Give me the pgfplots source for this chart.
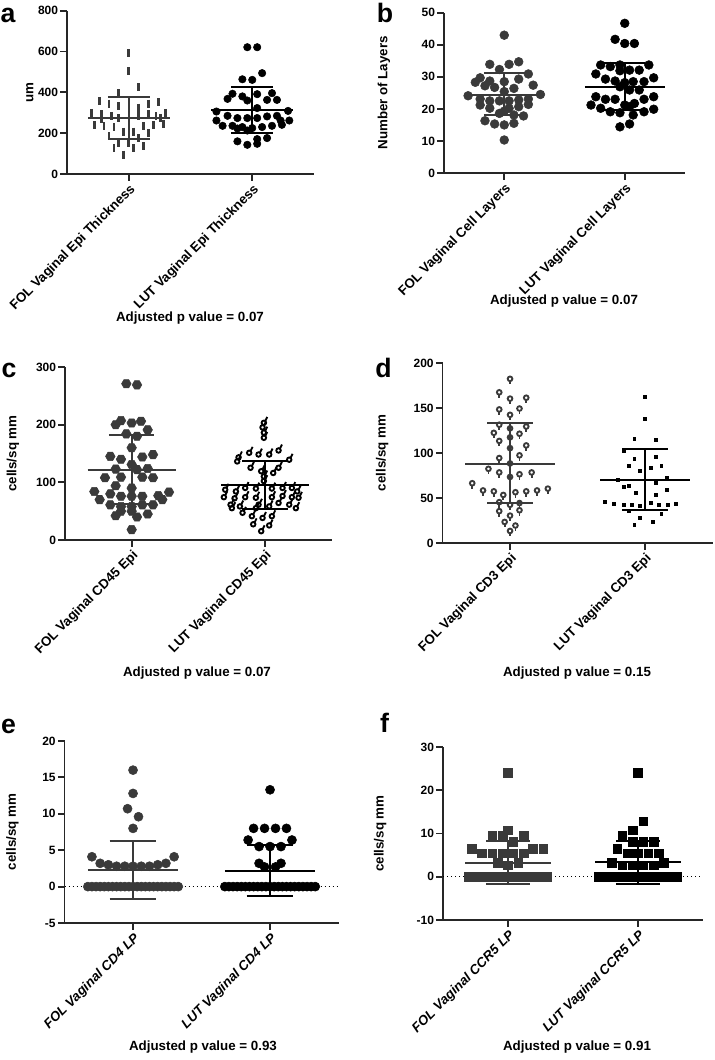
\documentclass[border=0pt]{standalone}
\usepackage{pgfplots}
\pgfplotsset{compat=1.18}
\usepackage{fontspec}
\setmainfont{Liberation Sans}
\definecolor{fol}{RGB}{58,58,58}

\pgfdeclareplotmark{hexagon*}{%
 \pgfpathmoveto{\pgfqpointpolar{0}{\pgfplotmarksize}}%
 \pgfpathlineto{\pgfqpointpolar{60}{\pgfplotmarksize}}%
 \pgfpathlineto{\pgfqpointpolar{120}{\pgfplotmarksize}}%
 \pgfpathlineto{\pgfqpointpolar{180}{\pgfplotmarksize}}%
 \pgfpathlineto{\pgfqpointpolar{240}{\pgfplotmarksize}}%
 \pgfpathlineto{\pgfqpointpolar{300}{\pgfplotmarksize}}%
 \pgfpathclose\pgfusepathqfillstroke}
\pgfdeclareplotmark{balloon}{%
 \pgfpathcircle{\pgfqpoint{-0.25\pgfplotmarksize}{-0.35\pgfplotmarksize}}{0.5\pgfplotmarksize}%
 \pgfusepathqstroke
 \pgfpathmoveto{\pgfqpoint{0.05\pgfplotmarksize}{0.05\pgfplotmarksize}}%
 \pgfpathlineto{\pgfqpoint{0.5\pgfplotmarksize}{0.95\pgfplotmarksize}}%
 \pgfusepathqstroke}
\pgfdeclareplotmark{lolli}{%
 \pgfpathcircle{\pgfqpoint{0pt}{0.3\pgfplotmarksize}}{0.55\pgfplotmarksize}%
 \pgfusepathqstroke
 \pgfpathmoveto{\pgfqpoint{0pt}{-0.25\pgfplotmarksize}}%
 \pgfpathlineto{\pgfqpoint{0pt}{-1.0\pgfplotmarksize}}%
 \pgfusepathqstroke}

\pgfplotsset{panel/.style={
  scale only axis, clip=false, anchor=south west,
  xmin=0.5, xmax=2.5, xtick={1,2},
  axis x line*=bottom, axis y line*=left,
  axis line style={-, line width=1.4pt, black!85},
  tick align=outside, major tick length=5pt,
  every tick/.style={line width=1.4pt, black!85},
  /pgf/number format/assume math mode=true,
  scaled y ticks=false,
  yticklabel style={font=\bfseries\fontsize{9}{10}\selectfont, inner sep=1.5pt},
  xticklabel style={font=\bfseries\fontsize{10}{12}\selectfont, rotate=45, anchor=north east, inner sep=1pt},
  ylabel style={font=\bfseries\fontsize{10}{12}\selectfont, anchor=center},
}}
\newcommand{\msdF}[4]{%
 \addplot[#1,line width=1.5pt] coordinates {(0.67,#2) (1.33,#2)};
 \addplot[#1,line width=1.5pt] coordinates {(0.83,#3) (1.17,#3)};
 \addplot[#1,line width=1.5pt] coordinates {(0.83,#4) (1.17,#4)};
 \addplot[#1,line width=1.5pt] coordinates {(1,#3) (1,#4)};}
\newcommand{\msdL}[4]{%
 \addplot[#1,line width=1.5pt] coordinates {(1.67,#2) (2.33,#2)};
 \addplot[#1,line width=1.5pt] coordinates {(1.83,#3) (2.17,#3)};
 \addplot[#1,line width=1.5pt] coordinates {(1.83,#4) (2.17,#4)};
 \addplot[#1,line width=1.5pt] coordinates {(2,#3) (2,#4)};}

\begin{document}
\begin{tikzpicture}
\useasboundingbox (0,0) rectangle (535.5pt,-795pt);

% ---------------- a
\begin{axis}[panel, at={(50.25pt,-130.5pt)}, width=185.25pt, height=122.5pt,
  ymin=0, ymax=800, ytick={0,200,400,600,800},
  ylabel={um}, ylabel style={at={(axis description cs:-0.15,0.5)}},
  xticklabels={FOL Vaginal Epi Thickness, LUT Vaginal Epi Thickness}]
\addplot[only marks, mark=|, mark size=3pt, fol, mark options={line width=2.1pt}] coordinates {
(1.00,592)(1.00,503)(1.08,425)(0.92,395)(0.76,358)(0.84,345)(1.16,345)(1.24,352)(0.92,332)(1.08,325)
(0.70,300)(0.78,292)(0.86,285)(1.16,292)(1.30,300)(0.92,272)(1.08,282)(1.22,282)(0.78,268)(1.26,275)
(0.72,240)(0.80,235)(0.88,228)(1.12,235)(1.20,240)(1.28,246)(0.96,208)(1.04,208)(1.16,200)(0.84,185)
(1.08,176)(0.92,150)(1.00,150)(0.88,128)(1.04,127)(1.12,135)(0.96,95)};
\addplot[only marks, mark=*, mark size=2.8pt, black] coordinates {
(1.96,621)(2.04,621)(2.08,494)(1.92,464)(2.00,461)(1.84,393)(1.92,380)(2.04,391)(2.16,396)(1.80,368)
(1.96,360)(2.12,363)(2.20,363)(2.04,323)(1.71,306)(2.29,309)(1.80,285)(1.88,274)(1.96,274)(2.04,274)
(2.12,282)(2.20,285)(1.71,262)(2.23,262)(2.30,262)(1.76,236)(1.84,236)(1.92,230)(2.00,225)(2.08,230)
(2.16,236)(2.24,241)(1.88,223)(1.96,213)(1.88,160)(2.04,171)(2.12,176)(1.96,143)(2.04,148)};
\msdF{fol}{274}{171}{376}
\msdL{black}{314}{200}{426}
\end{axis}

% ---------------- b
\begin{axis}[panel, at={(333pt,-129.75pt)}, width=180.75pt, height=120.2pt,
  ymin=0, ymax=50, ytick={0,10,20,30,40,50},
  ylabel={Number of Layers}, ylabel style={at={(axis description cs:-0.249,0.5)}},
  xticklabels={FOL Vaginal Cell Layers, LUT Vaginal Cell Layers}]
\addplot[only marks, mark=*, mark size=3.3pt, fol] coordinates {
(1.00,43.0)(0.88,33.9)(1.04,33.9)(1.12,34.7)(0.96,32.3)(1.20,30.9)(0.80,29.7)(1.12,29.3)(0.76,28.3)(0.88,28.7)
(1.00,28.5)(1.24,27.4)(0.84,27.2)(0.92,26.7)(1.08,26.4)(1.00,25.4)(0.70,24.1)(1.30,24.5)(0.80,23.1)(0.88,22.5)
(0.96,22.5)(1.04,22.5)(1.12,22.8)(1.20,23.1)(0.80,21.2)(0.88,20.2)(1.04,20.2)(1.12,20.7)(1.20,21.4)(1.00,19.3)
(0.96,18.6)(1.08,18.1)(1.16,17.8)(0.84,16.3)(0.92,15.3)(1.00,15.0)(1.08,15.5)(1.00,10.3)};
\addplot[only marks, mark=*, mark size=3.3pt, black] coordinates {
(2.00,46.7)(1.92,41.7)(2.00,40.4)(2.08,40.4)(1.80,33.7)(1.88,33.2)(1.96,33.7)(2.20,33.7)(2.04,32.1)(2.12,32.1)
(1.96,31.9)(1.76,30.9)(1.84,29.3)(2.24,29.7)(1.92,28.7)(2.00,28.2)(2.07,28.5)(2.16,28.5)(1.96,26.9)(2.04,25.9)
(2.12,25.9)(1.76,23.8)(2.24,23.8)(1.84,23.0)(1.92,23.0)(2.16,23.0)(2.08,21.7)(1.72,21.2)(2.00,21.2)(1.80,20.2)
(2.04,20.7)(2.24,19.9)(1.88,19.1)(1.96,18.8)(2.16,19.1)(2.07,18.1)(1.96,14.4)(2.04,15.3)};
\msdF{fol}{24.3}{18.1}{31.3}
\msdL{black}{26.7}{19.6}{34.4}
\end{axis}

% ---------------- c
\begin{axis}[panel, at={(48.75pt,-405pt)}, width=200pt, height=129.75pt,
  ymin=0, ymax=300, ytick={0,100,200,300},
  ylabel={cells/sq mm}, ylabel style={at={(axis description cs:-0.195,0.5)}},
  xticklabels={FOL Vaginal CD45 Epi, LUT Vaginal CD45 Epi}]
\addplot[only marks, mark=hexagon*, mark size=3.6pt, fol] coordinates {
(0.96,271)(1.04,269)(0.92,207)(1.00,203)(1.07,206)(0.88,200)(1.12,191)(0.96,184)(1.04,180)(1.00,160)
(0.84,145)(0.92,140)(1.08,144)(1.16,148)(1.00,131)(0.88,123)(1.04,122)(1.12,124)(0.80,108)(0.92,109)
(1.08,109)(1.16,108)(0.88,94)(1.00,90)(0.72,84)(0.84,80)(0.92,76)(1.00,76)(1.08,76)(1.20,77)
(1.28,83)(1.23,70)(0.76,70)(0.84,61)(0.92,58)(1.00,58)(1.08,61)(1.16,61)(0.92,50)(1.00,50)
(0.88,42)(1.04,40)(1.12,45)(1.00,18)};
\addplot[only marks, mark=balloon, mark size=3.4pt, black, mark options={line width=1.4pt}] coordinates {
(2.00,206)(1.99,198)(2.00,189)(2.00,180)(2.11,158)(1.89,154)(1.96,151)(2.04,151)(1.81,146)(2.19,142)
(1.80,139)(1.90,128)(1.98,122)(2.11,128)(2.07,119)(2.00,113)(2.00,105)(1.71,90)(1.79,87)(1.86,93)
(1.94,92)(2.06,92)(2.14,93)(2.21,93)(2.25,87)(1.70,77)(1.78,75)(1.86,77)(1.94,76)(2.06,77)
(2.14,79)(2.21,77)(2.26,76)(1.75,64)(1.82,61)(1.96,64)(2.04,61)(2.11,67)(2.19,64)(1.76,58)
(2.24,58)(1.84,50)(1.94,58)(1.91,44)(1.99,41)(2.06,44)(1.92,30)(2.04,28)(1.98,18)};
\msdF{fol}{122}{62}{182}
\msdL{black}{95}{53}{137}
\end{axis}

% ---------------- d
\begin{axis}[panel, at={(331.9pt,-407.25pt)}, width=202.5pt, height=135pt,
  ymin=0, ymax=200, ytick={0,50,100,150,200},
  ylabel={cells/sq mm}, ylabel style={at={(axis description cs:-0.224,0.5)}},
  xticklabels={FOL Vaginal CD3 Epi, LUT Vaginal CD3 Epi}]
\addplot[only marks, mark=lolli, mark size=3.2pt, fol, mark options={line width=1.4pt}] coordinates {
(1.00,181)(0.92,166)(1.12,160)(1.00,159)(0.92,147)(1.07,148)(1.00,141)(0.92,130)(1.12,128)(1.00,126)
(0.88,121)(1.07,120)(1.00,116)(0.92,112)(1.12,107)(1.00,104)(0.92,93)(1.07,96)(1.00,87)(0.84,81)
(0.92,77)(1.07,75)(1.16,77)(1.00,72)(0.72,65)(0.80,57)(0.88,56)(0.95,52)(1.04,55)(1.12,56)
(1.20,57)(1.28,59)(0.92,44)(1.00,41)(1.07,43)(0.92,34)(1.00,29)(1.07,35)(0.96,22)(1.04,18)(1.00,12)};
\addplot[only marks, mark=square*, mark size=1.1pt, black] coordinates {
(2.00,163)(2.00,138)(1.92,116)(2.08,115)(1.84,102)(1.92,94)(2.08,96)(1.88,86)(2.04,84)(2.12,86)
(1.96,80)(1.80,70)(2.16,73)(2.08,67)(1.84,62)(1.88,64)(1.93,56)(2.08,54)(2.16,59)(1.70,46)
(1.77,44)(1.84,43)(1.90,43)(1.96,41)(2.04,45)(2.10,42)(2.17,43)(2.23,44)(1.88,36)(2.12,32)
(1.96,28)(2.06,24)(1.92,20)};
\msdF{fol}{88}{44}{133}
\msdL{black}{70}{37}{104}
\end{axis}

% ---------------- e
\begin{axis}[panel, at={(48.4pt,-692.25pt)}, width=205.5pt, height=136.5pt,
  ymin=-5, ymax=20, ytick={-5,0,5,10,15,20},
  ylabel={cells/sq mm}, ylabel style={at={(axis description cs:-0.19,0.5)}},
  xticklabel style={font=\bfseries\itshape\fontsize{10}{12}\selectfont},
  xticklabels={FOL Vaginal CD4 LP, LUT Vaginal CD4 LP}]
\addplot[black, dotted, line width=1pt] coordinates {(0.5,0) (2.5,0)};
\addplot[only marks, mark=*, mark size=3.4pt, fol] coordinates {
(1.00,16.0)(1.00,12.8)(0.96,10.7)(1.04,9.6)(1.00,8.0)(0.70,4.1)(1.30,4.1)(0.76,3.2)(0.82,3.0)(0.88,2.8)
(0.94,2.8)(1.00,2.8)(1.06,2.8)(1.12,2.8)(1.18,3.0)(1.24,3.2)
(0.67,0)(0.70,0)(0.73,0)(0.76,0)(0.79,0)(0.82,0)(0.85,0)(0.88,0)(0.91,0)(0.94,0)(0.97,0)(1.00,0)
(1.03,0)(1.06,0)(1.09,0)(1.12,0)(1.15,0)(1.18,0)(1.21,0)(1.24,0)(1.27,0)(1.30,0)(1.33,0)};
\addplot[only marks, mark=*, mark size=3.4pt, black] coordinates {
(2.00,13.3)(1.88,8.0)(1.96,8.0)(2.04,8.0)(2.12,8.0)(1.84,6.4)(2.16,6.4)(1.92,5.5)(2.00,5.5)(2.08,5.5)
(1.92,3.2)(2.08,3.2)(1.96,2.7)(2.04,2.7)
(1.67,0)(1.70,0)(1.73,0)(1.76,0)(1.79,0)(1.82,0)(1.85,0)(1.88,0)(1.91,0)(1.94,0)(1.97,0)(2.00,0)
(2.03,0)(2.06,0)(2.09,0)(2.12,0)(2.15,0)(2.18,0)(2.21,0)(2.24,0)(2.27,0)(2.30,0)(2.33,0)};
\msdF{fol}{2.3}{-1.7}{6.3}
\msdL{black}{2.2}{-1.3}{5.7}
\end{axis}

% ---------------- f
\begin{axis}[panel, at={(332.25pt,-690pt)}, width=195pt, height=129.75pt,
  ymin=-10, ymax=30, ytick={-10,0,10,20,30},
  ylabel={cells/sq mm}, ylabel style={at={(axis description cs:-0.242,0.5)}},
  xticklabel style={font=\bfseries\itshape\fontsize{10}{12}\selectfont},
  xticklabels={FOL Vaginal CCR5 LP, LUT Vaginal CCR5 LP}]
\addplot[black, dotted, line width=1pt] coordinates {(0.5,0) (2.5,0)};
\addplot[only marks, mark=square*, mark size=3.2pt, fol] coordinates {
(1.00,24.0)(1.00,10.8)(0.88,9.6)(0.96,9.6)(1.12,9.6)(1.04,8.1)(0.72,6.5)(1.19,6.5)(1.27,6.5)(0.80,5.4)
(0.88,5.4)(0.96,5.4)(1.04,5.4)(1.12,5.4)(0.92,3.2)(1.08,3.2)(1.00,2.7)
(0.70,0)(0.74,0)(0.78,0)(0.82,0)(0.86,0)(0.90,0)(0.94,0)(0.98,0)(1.02,0)(1.06,0)(1.10,0)(1.14,0)
(1.18,0)(1.22,0)(1.26,0)(1.30,0)};
\addplot[only marks, mark=square*, mark size=3.2pt, black] coordinates {
(2.00,24.0)(2.04,12.8)(1.96,10.8)(1.88,9.6)(1.96,8.1)(2.04,8.1)(2.12,8.1)(1.84,6.5)(1.92,5.4)(2.00,5.4)
(2.08,5.4)(2.16,5.4)(1.80,3.2)(1.88,2.7)(1.96,2.7)(2.04,2.7)(2.12,2.7)(2.20,3.2)
(1.70,0)(1.74,0)(1.78,0)(1.82,0)(1.86,0)(1.90,0)(1.94,0)(1.98,0)(2.02,0)(2.06,0)(2.10,0)(2.14,0)
(2.18,0)(2.22,0)(2.26,0)(2.30,0)};
\msdF{fol}{3.2}{-1.7}{8.3}
\msdL{black}{3.3}{-1.7}{8.3}
\end{axis}

% panel letters and p values
\node[font=\bfseries\fontsize{20}{24}\selectfont, anchor=base, inner sep=0pt] at (6pt,-17pt) {a};
\node[font=\bfseries\fontsize{20}{24}\selectfont, anchor=base, inner sep=0pt] at (288.75pt,-17pt) {b};
\node[font=\bfseries\fontsize{20}{24}\selectfont, anchor=base, inner sep=0pt] at (6.8pt,-282.75pt) {c};
\node[font=\bfseries\fontsize{20}{24}\selectfont, anchor=base, inner sep=0pt] at (287.6pt,-282.75pt) {d};
\node[font=\bfseries\fontsize{20}{24}\selectfont, anchor=base, inner sep=0pt] at (6.4pt,-549.75pt) {e};
\node[font=\bfseries\fontsize{20}{24}\selectfont, anchor=base, inner sep=0pt] at (288.4pt,-549pt) {f};
\node[font=\bfseries\fontsize{10}{12}\selectfont] at (142.5pt,-238.5pt) {Adjusted p value = 0.07};
\node[font=\bfseries\fontsize{10}{12}\selectfont] at (423pt,-225.75pt) {Adjusted p value = 0.07};
\node[font=\bfseries\fontsize{10}{12}\selectfont] at (147.75pt,-504.75pt) {Adjusted p value = 0.07};
\node[font=\bfseries\fontsize{10}{12}\selectfont] at (432.75pt,-504.75pt) {Adjusted p value = 0.15};
\node[font=\bfseries\fontsize{10}{12}\selectfont] at (152.25pt,-785pt) {Adjusted p value = 0.93};
\node[font=\bfseries\fontsize{10}{12}\selectfont] at (432.75pt,-785pt) {Adjusted p value = 0.91};
\end{tikzpicture}
\end{document}
